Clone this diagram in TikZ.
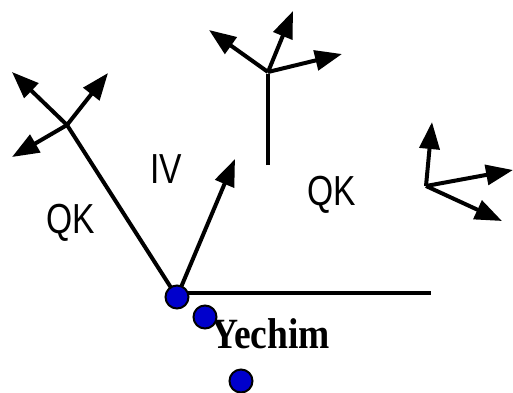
\documentclass[tikz,border=0pt]{standalone}
\usepackage{fontspec}
\setmainfont{Liberation Serif}
\newfontfamily\lsans{Liberation Sans}
\usetikzlibrary{arrows.meta}
\definecolor{dotblue}{RGB}{0,0,204}
\tikzset{
  axis/.style={line width=4pt},
  vec/.style={line width=4pt,-{Triangle[length=27pt,width=20pt]}},
  dot/.style={circle,draw=black,line width=2pt,fill=dotblue,minimum size=23pt,inner sep=0pt},
  lbl/.style={font=\lsans\fontsize{42}{42}\selectfont,xscale=0.8,anchor=base,inner sep=0pt},
  ylbl/.style={font=\bfseries\fontsize{37.5}{37.5}\selectfont,yscale=1.15,anchor=base,inner sep=0pt}
}
\begin{document}
\begin{tikzpicture}[x=1pt,y=-1pt]
\useasboundingbox (0,0) rectangle (513,392);
% coordinates
\coordinate (o) at (177,297);
\coordinate (hend) at (431,293);
\coordinate (ho) at (177,293);
\coordinate (L) at (67,125);
\coordinate (T) at (268,72);
\coordinate (Tb) at (268,165);
\coordinate (R) at (426,186);
% lines
\draw[axis] (o) -- (L);
\draw[axis] (ho) -- (hend);
\draw[axis] (Tb) -- (268,74);
% arrow from origin
\coordinate (vtip) at (235,159);
\draw[vec] (179,292) -- (vtip);
% left frame
\coordinate (L1) at (12,72);
\coordinate (L2) at (108,73);
\coordinate (L3) at (12,157);
\draw[vec] (L) -- (L1);
\draw[vec] (L) -- (L2);
\draw[vec] (L) -- (L3);
% top frame
\coordinate (T1) at (209,30);
\coordinate (T2) at (293,11);
\coordinate (T3) at (342,54);
\draw[vec] (T) -- (T1);
\draw[vec] (T) -- (T2);
\draw[vec] (T) -- (T3);
% right frame
\coordinate (R1) at (432,122);
\coordinate (R2) at (513,170);
\coordinate (R3) at (502,221);
\draw[vec] (R) -- (R1);
\draw[vec] (R) -- (R2);
\draw[vec] (R) -- (R3);
% labels
\node[lbl] (qk1) at (70.5,233) {QK};
\node[lbl] (qk2) at (332,205.5) {QK};
\node[lbl] (iv) at (166,183) {IV};
\node[ylbl] (yech) at (270.5,348) {Yechim};
% dots
\node[dot] (d1) at (o) {};
\node[dot] (d2) at (205,317) {};
\node[dot] (d3) at (241,381) {};
\end{tikzpicture}
\end{document}
